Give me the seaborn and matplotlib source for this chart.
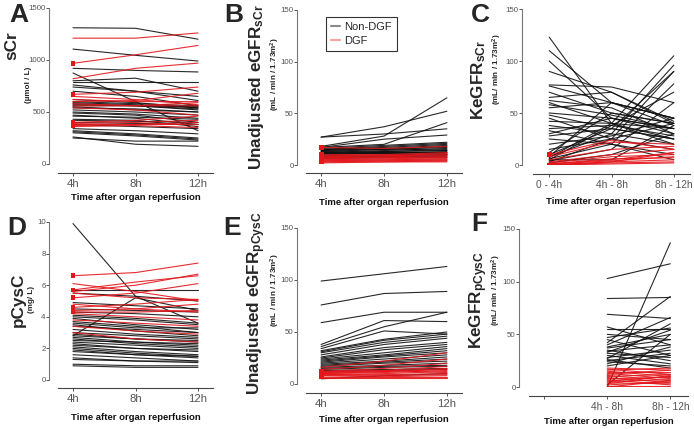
import numpy as np
import pandas as pd
import matplotlib
matplotlib.use("Agg")
import matplotlib.pyplot as plt
import seaborn as sns
from matplotlib.lines import Line2D

# ---------------- data ----------------
times_std = ["4h", "8h", "12h"]
times_ke = ["0 - 4h", "4h - 8h", "8h - 12h"]
times_kec = ["", "4h - 8h", "8h - 12h"]

scr_nondgf = [
    [1310, 1305, 1200], [1105, 1045, 990], [920, 900, 885], [875, 600, 320],
    [800, 825, 700], [790, 790, 790], [760, 700, 650], [740, 700, 610],
    [700, 650, 560], [620, 590, 540], [600, 580, 560], [590, 570, 540],
    [580, 560, 520], [570, 560, 550], [560, 560, 530], [540, 530, 500],
    [520, 500, 470], [500, 480, 440], [490, 470, 400], [470, 440, 380],
    [460, 450, 430], [430, 420, 360], [420, 410, 400], [400, 390, 380],
    [340, 320, 290], [320, 290, 250], [310, 280, 240], [300, 270, 230],
    [260, 190, 170], [250, 220, 220], [380, 360, 340], [550, 520, 500],
]
scr_dgf = [
    [1210, 1210, 1260], [968, 1050, 1140], [820, 920, 970], [670, 690, 740],
    [650, 620, 570], [620, 600, 600], [600, 610, 680], [580, 560, 560],
    [560, 560, 590], [540, 520, 470], [400, 420, 460], [390, 400, 420],
    [380, 380, 400], [370, 380, 380], [360, 370, 350],
]
scr_dgf_marks = [968, 670, 400, 390, 380, 370]

egfr_scr_nondgf = [
    [27, 37, 52], [18, 28, 65], [17, 20, 41], [27, 30, 35], [17, 25, 29],
    [16, 19, 22], [15, 18, 21], [15, 17, 20], [14, 16, 19], [14, 15, 18],
    [13, 15, 17], [12, 14, 16], [12, 13, 15], [11, 13, 14], [11, 12, 13],
    [10, 12, 12], [10, 11, 11], [9, 10, 10], [8, 9, 10], [8, 8, 9],
    [7, 8, 8], [6, 7, 7], [15, 16, 14], [13, 12, 12], [12, 11, 10],
]
egfr_scr_dgf = [
    [17, 16, 18], [10, 10, 12], [9, 9, 11], [8, 9, 10], [7, 8, 9],
    [7, 7, 8], [6, 7, 7], [5, 6, 7], [5, 5, 6], [4, 5, 5],
    [4, 4, 5], [3, 4, 4], [3, 3, 4], [2, 3, 3],
]
egfr_scr_dgf_marks = [17, 10, 8, 6, 4, 3]

ke_scr_nondgf = [
    [123, 40, 20], [110, 60, 45], [100, 45, 35], [90, 70, 40], [77, 75, 60],
    [76, 60, 45], [70, 50, 40], [65, 70, 42], [62, 55, 30], [60, 40, 25],
    [58, 48, 35], [55, 60, 38], [50, 45, 30], [48, 35, 25], [45, 25, 15],
    [42, 40, 35], [38, 30, 20], [35, 38, 28], [33, 20, 10], [30, 45, 35],
    [28, 35, 25], [25, 20, 5], [20, 28, 45], [15, 25, 40], [10, 35, 90],
    [8, 30, 96], [7, 40, 105], [6, 20, 78], [5, 38, 70], [4, 15, 60],
    [12, 50, 40], [8, 60, 45], [3, 25, 90], [2, 10, 30], [5, 5, 38],
]
ke_scr_dgf = [
    [10, 24, 15], [8, 22, 20], [5, 15, 18], [3, 10, 15], [2, 8, 10],
    [1, 5, 12], [1, 4, 8], [0, 3, 5], [0, 2, 3], [0, 1, 2],
    [0, 3, 12], [1, 6, 7],
]
ke_scr_dgf_marks = [10, 0]

cysc_nondgf = [
    [9.9, 5.3, 3.6], [2.8, 5.2, 4.4], [5.7, 5.7, 5.7], [5.5, 5.3, 5.0],
    [4.9, 4.7, 4.5], [4.3, 4.2, 4.0], [4.1, 3.9, 3.6], [4.0, 3.8, 3.5],
    [3.9, 3.5, 3.2], [3.7, 3.4, 3.0], [3.5, 3.1, 2.8], [3.4, 3.2, 3.0],
    [3.2, 2.9, 2.7], [3.0, 2.8, 2.6], [2.9, 2.6, 2.4], [2.8, 2.6, 2.5],
    [2.7, 2.4, 2.2], [2.6, 2.3, 2.1], [2.5, 2.4, 2.3], [2.4, 2.2, 2.0],
    [2.3, 2.0, 1.8], [2.2, 2.0, 1.9], [2.1, 1.8, 1.6], [2.0, 1.7, 1.5],
    [1.9, 1.6, 1.4], [1.8, 1.6, 1.5], [1.6, 1.4, 1.2], [1.4, 1.2, 1.1],
    [1.3, 1.2, 1.2], [1.0, 0.9, 0.9], [0.9, 0.8, 0.8], [3.6, 3.3, 3.3],
    [4.5, 4.4, 4.3],
]
cysc_dgf = [
    [6.6, 6.8, 7.4], [6.1, 5.6, 5.0], [5.7, 6.2, 6.6], [5.6, 6.0, 6.7],
    [5.2, 5.5, 6.1], [4.6, 4.8, 5.1], [4.4, 4.5, 4.8], [4.3, 4.3, 4.4],
    [4.2, 4.0, 3.8], [3.8, 3.6, 3.4], [3.4, 3.1, 2.9], [3.0, 2.6, 2.4],
    [4.8, 4.5, 4.3], [5.5, 5.2, 5.1],
]
cysc_dgf_marks = [6.6, 5.7, 5.2, 4.6, 4.4, 4.3]

egfr_cysc_nondgf = [
    [99, 106, 113], [76, 87, 89], [59, 69, 69], [38, 61, 60], [36, 55, 69],
    [34, 51, 48], [32, 43, 50], [31, 42, 48], [30, 40, 46], [28, 38, 44],
    [26, 35, 40], [25, 33, 38], [24, 30, 36], [23, 28, 34], [22, 27, 32],
    [21, 26, 30], [20, 24, 28], [19, 22, 26], [18, 21, 24], [17, 20, 22],
    [16, 18, 20], [15, 17, 18], [14, 16, 17], [13, 14, 15], [12, 13, 14],
    [5, 8, 10],
]
egfr_cysc_dgf = [
    [16, 22, 30], [14, 18, 24], [12, 15, 20], [11, 13, 17], [10, 12, 15],
    [10, 11, 13], [9, 10, 12], [9, 9, 10], [8, 8, 9], [8, 7, 8],
    [7, 7, 7], [6, 6, 6], [11, 12, 14], [12, 13, 11],
]
egfr_cysc_dgf_marks = [12, 11, 10, 9, 8, 7]

ke_cysc_nondgf = [
    [103, 117], [0, 137], [84, 85], [69, 65], [57, 40], [55, 55], [50, 45],
    [47, 56], [45, 30], [42, 86], [40, 66], [38, 50], [37, 45], [35, 25],
    [34, 40], [33, 54], [32, 28], [30, 22], [28, 35], [27, 60], [25, 32],
    [24, 20], [22, 38], [20, 30], [2, 50], [26, 18],
]
ke_cysc_dgf = [
    [18, 16], [17, 12], [16, 18], [15, 10], [14, 14], [13, 8], [12, 16],
    [11, 6], [10, 12], [9, 4], [8, 9], [7, 2], [6, 10], [5, 7], [4, 3],
    [3, 11], [2, 5], [1, 1], [0, 6],
]

# ---------------- style ----------------
sns.set_style("ticks")
plt.rcParams["font.family"] = ["Liberation Sans", "DejaVu Sans"]
plt.rcParams["mathtext.fontset"] = "custom"
plt.rcParams["mathtext.rm"] = "Liberation Sans:bold"
plt.rcParams["mathtext.bf"] = "Liberation Sans:bold"
plt.rcParams["mathtext.it"] = "Liberation Sans:bold"

BLACK = "#111111"
RED = "#e3161b"
W, H = 694, 429

fig = plt.figure(figsize=(W / 100, H / 100), dpi=100)


def add_ax(left, right, top, bottom):
    return fig.add_axes([left / W, 1 - bottom / H, (right - left) / W, (bottom - top) / H])


def build_df(nondgf, dgf, offset):
    rows = []
    uid = 0
    for grp, series in (("Non-DGF", nondgf), ("DGF", dgf)):
        for s in series:
            for i, v in enumerate(s):
                rows.append({"id": uid, "group": grp, "x": i + offset, "value": v})
            uid += 1
    return pd.DataFrame(rows)


def panel(ax, nondgf, dgf, marks, labels, offset, ylim, yticks, xlim, loff, boff, xfs):
    df = build_df(nondgf, dgf, offset)
    sns.lineplot(data=df[df.group == "Non-DGF"], x="x", y="value", units="id",
                 estimator=None, color=BLACK, lw=0.8, alpha=0.9, ax=ax, legend=False)
    sns.lineplot(data=df[df.group == "DGF"], x="x", y="value", units="id",
                 estimator=None, color=RED, lw=0.8, alpha=0.9, ax=ax, legend=False)
    if marks:
        mdf = pd.DataFrame({"x": [offset] * len(marks), "value": marks})
        sns.scatterplot(data=mdf, x="x", y="value", marker="s", s=12,
                        color=RED, edgecolor="none", ax=ax, legend=False, zorder=5)
    ax.set_xlim(*xlim)
    ax.set_ylim(*ylim)
    ax.set_yticks(yticks)
    ax.set_xticks(range(len(labels)))
    ax.set_xticklabels(labels)
    ax.tick_params(axis="y", labelsize=5.7, colors="#555555", length=2, width=0.7, pad=0.4)
    ax.tick_params(axis="x", labelsize=xfs, colors="#555555", length=2.5, width=0.7, pad=2)
    for lab in ax.get_xticklabels():
        lab.set_color("#222222")
    for lab in ax.get_yticklabels():
        lab.set_color("#444444")
    sns.despine(ax=ax)
    ax.spines["left"].set_position(("outward", loff * 0.72))
    ax.spines["bottom"].set_position(("outward", boff * 0.72))
    ax.spines["left"].set_color("#777777")
    ax.spines["bottom"].set_color("#444444")
    ax.spines["left"].set_linewidth(0.8)
    ax.spines["bottom"].set_linewidth(0.8)
    ax.set_xlabel("")
    ax.set_ylabel("")


axA = add_ax(58, 213, 8, 164)
panel(axA, scr_nondgf, scr_dgf, scr_dgf_marks, times_std, 0, (0, 1500),
      [0, 500, 1000, 1500], (-0.24, 2.24), 9, 9, 8.2)
axB = add_ax(306, 462, 10, 165)
panel(axB, egfr_scr_nondgf, egfr_scr_dgf, egfr_scr_dgf_marks, times_std, 0, (0, 150),
      [0, 50, 100, 150], (-0.24, 2.24), 9, 8, 8.2)
axC = add_ax(533, 690, 9, 165)
panel(axC, ke_scr_nondgf, ke_scr_dgf, ke_scr_dgf_marks, times_ke, 0, (0, 150),
      [0, 50, 100, 150], (-0.26, 2.26), 11, 9, 7.3)
axD = add_ax(58, 213, 222, 380)
panel(axD, cysc_nondgf, cysc_dgf, cysc_dgf_marks, times_std, 0, (0, 10),
      [0, 2, 4, 6, 8, 10], (-0.24, 2.24), 9, 8, 8.2)
axE = add_ax(306, 462, 228, 384)
panel(axE, egfr_cysc_nondgf, egfr_cysc_dgf, egfr_cysc_dgf_marks, times_std, 0, (0, 150),
      [0, 50, 100, 150], (-0.24, 2.24), 9, 9, 8.2)
axF = add_ax(529, 688, 229, 387)
panel(axF, ke_cysc_nondgf, ke_cysc_dgf, [], times_kec, 1, (0, 150),
      [0, 50, 100, 150], (-0.24, 2.28), 10, 9, 7.3)

# legend in B
handles = [Line2D([], [], color="#8a8a8a", lw=1.5, label="Non-DGF"),
           Line2D([], [], color="#f4a0a0", lw=1.5, label="DGF")]
leg = fig.legend(handles=handles, loc="upper left", bbox_to_anchor=(326 / W, 1 - 17 / H),
                 frameon=True, fontsize=8, handlelength=0.8, handletextpad=0.4,
                 borderpad=0.45, labelspacing=0.35, fancybox=False, borderaxespad=0)
leg.get_frame().set_edgecolor("black")
leg.get_frame().set_linewidth(0.8)


def ftext(x, y, s, **kw):
    fig.text(x / W, 1 - y / H, s, **kw)


# panel letters
for letter, x, y in [("A", 9, 3), ("B", 224, 3), ("C", 471, 3),
                     ("D", 7, 216), ("E", 223, 216), ("F", 471, 212)]:
    ftext(x, y, letter, fontsize=19, fontweight="bold", ha="left", va="top")

# y labels
big = dict(fontsize=12.3, fontweight="bold", rotation=90, ha="center", va="center")
small = dict(fontsize=5.9, fontweight="bold", rotation=90, ha="center", va="center")
ftext(12, 46, "sCr", **big)
ftext(28, 85, "(µmol / L)", **small)
ftext(257, 87, r"Unadjusted eGFR$_{\mathregular{sCr}}$", **big)
ftext(275, 74, r"(mL / min / 1.73m$^{\mathregular{2}}$)", **small)
ftext(479, 80, r"KeGFR$_{\mathregular{sCr}}$", **big)
ftext(497, 69, r"(mL/ min / 1.73m$^{\mathregular{2}}$)", **small)
ftext(18, 300, "pCysC", **big)
ftext(32, 299, "(mg/ L)", **small)
ftext(257, 303, r"Unadjusted eGFR$_{\mathregular{pCysC}}$", **big)
ftext(275, 290, r"(mL / min / 1.73m$^{\mathregular{2}}$)", **small)
ftext(478.5, 300, r"KeGFR$_{\mathregular{pCysC}}$", **big)
ftext(496.5, 290, r"(mL/ min / 1.73m$^{\mathregular{2}}$)", **small)

# x labels
xl = dict(fontsize=6.8, fontweight="bold", ha="center", va="center", color="#111111")
for x, y in [(136, 197), (384, 202), (611, 201), (136, 417), (384, 419), (609, 422)]:
    ftext(x, y, "Time after organ reperfusion", **xl)

fig.savefig("out.png", dpi=100)
